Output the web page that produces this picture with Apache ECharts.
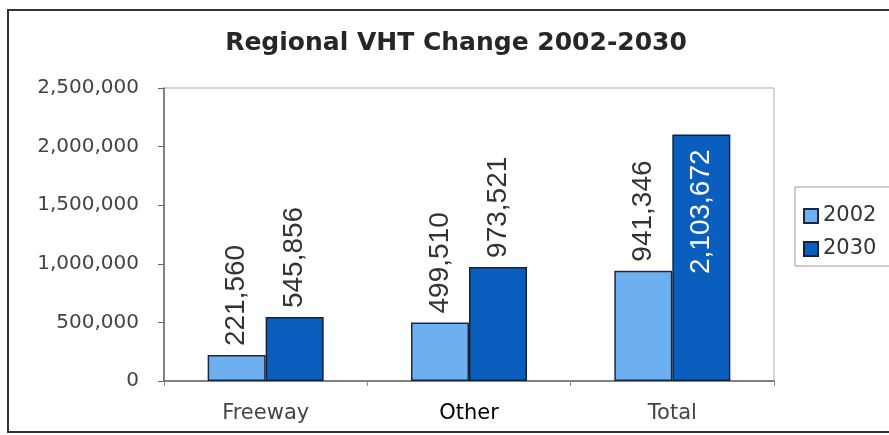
<!DOCTYPE html>
<html>
<head>
<meta charset="utf-8">
<script src="https://cdn.jsdelivr.net/npm/echarts@6/dist/echarts.min.js"></script>
<style>
  html, body { margin: 0; padding: 0; background: #fff; }
  #chart { width: 889px; height: 435px; }
</style>
</head>
<body>
<div id="chart"></div>
<script>
const titleText = 'Regional VHT Change 2002-2030';
const categories = ['Freeway', 'Other', 'Total'];
const seriesNames = ['2002', '2030'];
const values2002 = [221560, 499510, 941346];
const values2030 = [545856, 973521, 2103672];
const yMin = 0;
const yMax = 2500000;
const yInterval = 500000;

const fmt = v => Number(v).toLocaleString('en-US');
const labelFont = "'Liberation Sans', Arial, sans-serif";
const uiFont = "'DejaVu Sans', Verdana, sans-serif";

const outsideLabel = {
  show: true, position: 'top', rotate: 90, align: 'left', verticalAlign: 'middle',
  distance: 9, fontFamily: labelFont, fontSize: 28, color: '#333',
  formatter: p => fmt(p.value)
};

const data2030 = values2030.map((v, i) => i === 2 ? {
  value: v,
  label: { position: 'insideTop', align: 'right', verticalAlign: 'middle', distance: 15, color: '#ffffff' }
} : v);

const chart = echarts.init(document.getElementById('chart'), null, { renderer: 'canvas' });
chart.setOption({
  backgroundColor: '#ffffff',
  animation: false,
  title: {
    text: titleText,
    left: 451, top: 26, textAlign: 'center',
    textStyle: { fontFamily: uiFont, fontWeight: 'bold', fontSize: 25, color: '#262626' }
  },
  graphic: [{
    type: 'rect', silent: true, z: -1,
    shape: { x: 8, y: 10, width: 895, height: 422 },
    style: { fill: 'none', stroke: '#333', lineWidth: 2 }
  }],
  legend: {
    orient: 'vertical', left: 795, top: 187,
    padding: [17, 40, 5, 8], itemGap: 9, itemWidth: 14, itemHeight: 14,
    icon: 'rect',
    borderColor: '#9a9a9a', borderWidth: 1, backgroundColor: '#fff',
    textStyle: { fontFamily: uiFont, fontSize: 21, color: '#333', lineHeight: 24 },
    data: seriesNames
  },
  grid: {
    left: 164, right: 115, top: 88, bottom: 54,
    show: true, borderColor: '#b4a8a8', borderWidth: 1
  },
  xAxis: {
    type: 'category', data: categories,
    axisLine: { lineStyle: { color: '#666', width: 1.5 } },
    axisTick: { show: true, length: 5, lineStyle: { color: '#888' } },
    axisLabel: {
      margin: 22, fontFamily: uiFont, fontSize: 21,
      color: (v) => v === 'Other' ? '#000' : '#444'
    }
  },
  yAxis: {
    type: 'value', min: yMin, max: yMax, interval: yInterval,
    splitLine: { show: false },
    axisLine: { show: true, lineStyle: { color: '#666', width: 1.5 } },
    axisTick: { show: true, length: 6, lineStyle: { color: '#666' } },
    axisLabel: {
      margin: 25, fontFamily: uiFont, fontSize: 20, color: '#444',
      formatter: v => fmt(v)
    }
  },
  series: [
    {
      name: seriesNames[0], type: 'bar', data: values2002,
      barWidth: 58, barGap: '0%',
      itemStyle: { color: '#6eb0ef', borderColor: '#1c2842', borderWidth: 1.5 },
      label: outsideLabel
    },
    {
      name: seriesNames[1], type: 'bar', data: data2030,
      barWidth: 58, barGap: '0%',
      itemStyle: { color: '#0a5fbe', borderColor: '#14213d', borderWidth: 1.5 },
      label: outsideLabel
    }
  ]
});
</script>
</body>
</html>
